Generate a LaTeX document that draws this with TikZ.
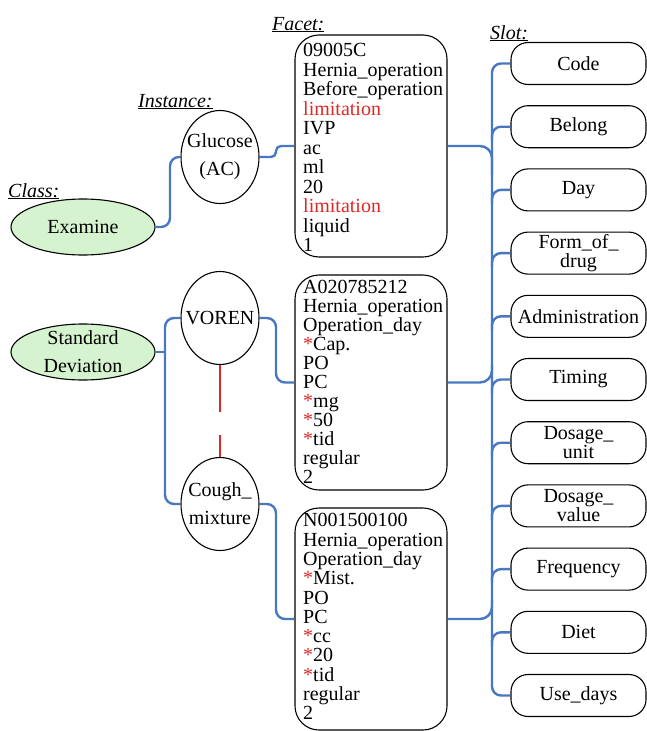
\documentclass[tikz,border=0pt]{standalone}
\usepackage{fontspec}
\setmainfont{Liberation Serif}
\usetikzlibrary{shapes.geometric}
\definecolor{bl}{RGB}{72,120,194}
\definecolor{rd}{RGB}{222,40,40}
\definecolor{gr}{RGB}{212,243,206}
\newcommand\redstar{\textcolor{rd}{*}}
\tikzset{
  conn/.style={draw=bl, line width=2.4pt, rounded corners=9pt},
  circ/.style={ellipse, draw=black, line width=1.1pt, fill=white, minimum width=78pt, minimum height=93pt, inner sep=0pt},
  classell/.style={ellipse, draw=black, line width=1.1pt, fill=gr, minimum width=144pt, minimum height=56pt, inner sep=0pt},
  ctext/.style={align=center, font=\fontsize{20}{28}\selectfont, inner sep=0pt},
  facetbox/.style={draw=black, line width=1.1pt, rounded corners=24pt, minimum width=152pt, inner sep=0pt},
  ftext/.style={anchor=north west, align=left, inner sep=0pt},
  slotbox/.style={draw=black, line width=1.1pt, rounded corners=17pt, minimum width=135pt, minimum height=42pt, inner sep=0pt, align=center, font=\fontsize{20}{19}\selectfont},
  lab/.style={anchor=base west, inner sep=0pt, font=\fontsize{20}{20}\selectfont\itshape},
  reddash/.style={draw=rd, line width=2pt, dash pattern=on 47pt off 23pt}
}
\begin{document}
\begin{tikzpicture}[x=1pt, y=-1pt]
\useasboundingbox[fill=white] (0,0) rectangle (647,731);

% labels
\node[lab] (lclass) at (8,197) {\underline{Class:}};
\node[lab] (linst) at (138,107) {\underline{Instance:}};
\node[lab] (lfacet) at (272,30) {\underline{Facet:}};
\node[lab] (lslot) at (490,39) {\underline{Slot:}};

% class ellipses
\node[classell] (exa) at (83,227) {};
\node[ctext] (exat) at (exa) {Examine};
\node[classell] (sd) at (83,352) {};
\node[ctext] (sdt) at (sd) {Standard\\Deviation};

% instances
\node[circ] (glu) at (220,157) {};
\node[ctext] (glut) at (glu) {Glucose\\(AC)};
\node[circ] (vor) at (220,318) {};
\node[ctext] (vort) at (vor) {VOREN};
\node[circ] (cou) at (220,504) {};
\node[ctext] (cout) at (cou) {Cough\_\\mixture};

% facets
\node[facetbox, minimum height=222pt] (f1) at (371,146) {};
\node[ftext, font=\fontsize{20}{19.5}\selectfont] (f1t) at (303,41.5) {\rule{0pt}{15pt}09005C\\Hernia\_operation\\Before\_operation\\\textcolor{rd}{limitation}\\IVP\\ac\\ml\\20\\\textcolor{rd}{limitation}\\liquid\\1};
\node[facetbox, minimum height=215pt] (f2) at (371,382.5) {};
\node[ftext, font=\fontsize{20}{19}\selectfont] (f2t) at (303,278.6) {\rule{0pt}{15pt}A020785212\\Hernia\_operation\\Operation\_day\\\redstar Cap.\\PO\\PC\\\redstar mg\\\redstar 50\\\redstar tid\\regular\\2};
\node[facetbox, minimum height=222pt] (f3) at (371,619) {};
\node[ftext, font=\fontsize{20}{19.3}\selectfont] (f3t) at (303,511.6) {\rule{0pt}{15pt}N001500100\\Hernia\_operation\\Operation\_day\\\redstar Mist.\\PO\\PC\\\redstar cc\\\redstar 20\\\redstar tid\\regular\\2};

% slots
\node[slotbox] (s1) at (578.5,63.5) {Code};
\node[slotbox] (s2) at (578.5,126.7) {Belong};
\node[slotbox] (s3) at (578.5,189.9) {Day};
\node[slotbox] (s4) at (578.5,253.1) {Form\_of\_\\drug};
\node[slotbox] (s5) at (578.5,316.3) {Administration};
\node[slotbox] (s6) at (578.5,379.5) {Timing};
\node[slotbox] (s7) at (578.5,442.7) {Dosage\_\\unit};
\node[slotbox] (s8) at (578.5,505.9) {Dosage\_\\value};
\node[slotbox] (s9) at (578.5,569.1) {Frequency};
\node[slotbox] (s10) at (578.5,632.3) {Diet};
\node[slotbox] (s11) at (578.5,695.5) {Use\_days};

% connectors
\draw[conn] (exa.east) -| (170,190) |- (glu.west);
\draw[conn, rounded corners=5pt] (glu.east) -| (276,146) -- (f1.west);
\draw[conn] (sd.east) -- (165,352);
\draw[conn] (vor.west) -| (165,400) |- (cou.west);
\draw[conn] (vor.east) -| (276,350) |- (f2.west);
\draw[conn] (cou.east) -| (276,560) |- (f3.west);
\draw[reddash] (vor.south) -- (cou.north);

\draw[conn] (s1.west) -| (492,400) |- (s11.west);
\foreach \k/\y in {2/126.7,3/189.9,4/253.1,5/316.3,6/379.5,7/442.7,8/505.9,9/569.1,10/632.3}
  \draw[conn] (492,\y+14) |- (s\k.west);
\draw[conn, rounded corners=12pt] (f1.east) -| (492,175);
\draw[conn, rounded corners=12pt] (f2.east) -| (492,365);
\draw[conn, rounded corners=12pt] (f3.east) -| (492,600);
\end{tikzpicture}
\end{document}
